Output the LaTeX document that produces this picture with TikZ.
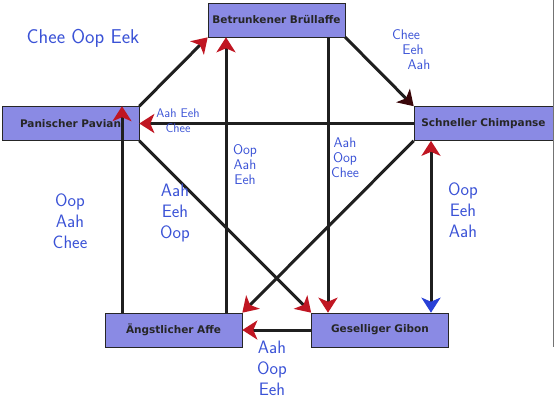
\documentclass[tikz,border=0pt]{standalone}
\usepackage{fontspec}
\newfontfamily\apefont{DejaVu Sans}
\usepackage{xcolor}
\usepackage{tikz}
\usetikzlibrary{arrows.meta}

\definecolor{boxblue}{RGB}{138,138,228}
\definecolor{tipred}{RGB}{192,22,34}
\definecolor{tipblue}{RGB}{40,64,214}
\definecolor{penblue}{RGB}{58,82,214}

\begin{document}
\begin{tikzpicture}[x=1pt, y=-1pt,
  ape/.style={draw=black!85, semithick, fill=boxblue, minimum width=137pt,
              minimum height=34pt, inner sep=2pt, text=black!85,
              font=\apefont\bfseries\fontsize{10.5}{12}\selectfont},
  redtip/.tip={Stealth[length=15pt,width=19pt,inset=4pt,color=tipred]},
  bluetip/.tip={Stealth[length=15pt,width=19pt,inset=4pt,color=tipblue]},
  darktip/.tip={Stealth[length=15pt,width=19pt,inset=4pt,color=black!70!tipred]},
  ar/.style={-redtip, line width=3pt, draw=black!88},
  hw/.style={text=penblue, align=center, inner sep=0pt,
             font=\sffamily\fontsize{14}{15}\selectfont},
  hwbig/.style={hw, font=\sffamily\fontsize{18}{21}\selectfont},
]
  \useasboundingbox (0,0) rectangle (555,400);

  %% the five apes
  \node[ape] (bru) at (276.5,20)  {Betrunkener Brüllaffe};
  \node[ape] (pav) at (70.5,123.5)  {Panischer Pavian};
  \node[ape, minimum width=139pt] (chi) at (483.5,123.5) {Schneller Chimpanse};
  \node[ape] (aff) at (173.5,330) {Ängstlicher Affe};
  \node[ape] (gib) at (380,330)   {Geselliger Gibon};

  %% straight arrows between corners and sides
  \foreach \a/\b in {pav.north east/bru.south west, chi.west/pav.east,
                     pav.south east/gib.north west, chi.south west/aff.north east,
                     gib.west/aff.east}
    \draw[ar] (\a) -- (\b);

  %% vertical arrows
  \draw[ar] ([xshift=52.5pt]aff.north) -- ([xshift=-50.5pt]bru.south);
  \draw[ar] ([xshift=51.5pt]bru.south) -- ([xshift=-52pt]gib.north);
  \draw[ar] ([xshift=-51.5pt]aff.north) -- ([xshift=51.5pt]pav.north);
  \draw[ar, redtip-bluetip] ([xshift=-52.5pt]chi.south) -- ([xshift=51pt]gib.north);
  \draw[ar, -darktip] (bru.south east) -- (chi.north west);

  %% pen notes
  \node[hw, font=\sffamily\fontsize{20}{22}\selectfont] (n0) at (83,38) {Chee Oop Eek};
  \node[hw] (n1) at (406,50) {Chee\\\hspace*{14pt}Eeh\\\hspace*{26pt}Aah};
  \node[hw, font=\sffamily\fontsize{12.5}{15}\selectfont] (n2) at (178,121) {Aah Eeh\\Chee};
  \node[hw] (n3) at (245,165) {Oop\\Aah\\Eeh};
  \node[hw] (n4) at (345,158) {Aah\\Oop\\Chee};
  \node[hwbig] (n5) at (70,221)  {Oop\\Aah\\Chee};
  \node[hwbig] (n6) at (175,213) {Aah\\Eeh\\Oop};
  \node[hwbig] (n7) at (463,210) {Oop\\Eeh\\Aah};
  \node[hwbig] (n8) at (272,368) {Aah\\Oop\\Eeh};

  %% scanned page edge
  \draw[black!55, line width=0.8pt] (553,0) -- (553,347);
\end{tikzpicture}
\end{document}
